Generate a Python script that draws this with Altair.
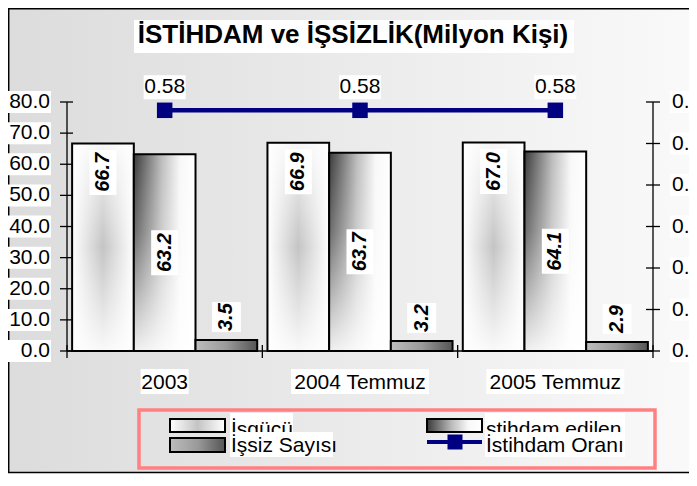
import altair as alt
import pandas as pd

# ---------------- data ----------------
groups = ["2003", "2004 Temmuz", "2005 Temmuz"]
series = ["İşgücü", "İstihdam edilen", "İşsiz Sayısı"]
isgucu = [66.7, 66.9, 67.0]
istihdam_edilen = [63.2, 63.7, 64.1]
issiz_sayisi = [3.5, 3.2, 2.9]
istihdam_orani = [0.58, 0.58, 0.58]
legend_labels = ["İşgücü", "stihdam edilen", "İşsiz Sayısı", "İstihdam Oranı"]
left_ticks = [0, 10, 20, 30, 40, 50, 60, 70, 80]
right_ticks = [0.0, 0.1, 0.2, 0.3, 0.4, 0.5, 0.6]
title_text = "İSTİHDAM ve İŞSİZLİK(Milyon Kişi)"

bars_df = pd.DataFrame({
    "group": groups * 3,
    "series": [series[0]] * 3 + [series[1]] * 3 + [series[2]] * 3,
    "value": isgucu + istihdam_edilen + issiz_sayisi,
})
rate_df = pd.DataFrame({"group": groups, "rate": istihdam_orani})
left_df = pd.DataFrame({"t": left_ticks})
right_df = pd.DataFrame({"t": right_ticks})
x_df = pd.DataFrame({"group": groups})
one = pd.DataFrame({"k": [0]})

FONT = "Liberation Sans"
NAVY = "#000080"
W, H = 586, 249


def grad(stops, x1=0, y1=0, x2=1, y2=0, kind="linear"):
    return alt.Gradient(
        gradient=kind,
        stops=[alt.GradientStop(offset=o, color=c) for o, c in stops],
        x1=x1, y1=y1, x2=x2, y2=y2,
    )


bg_fill = grad([(0, "#dcdcdc"), (1, "#fbfbfb")])
g1_base = grad([(0, "#ffffff"), (0.5, "#c4c4c4"), (1, "#ffffff")])
g1_over = grad([(0, "rgba(255,255,255,0.85)"), (0.5, "rgba(255,255,255,0)"),
                (1, "rgba(255,255,255,0.9)")], x2=0, y2=1)
g2_base = grad([(0, "#3a3a3a"), (0.45, "#bcbcbc"), (0.75, "#f8f8f8"), (1, "#ffffff")])
g2_over = grad([(0, "rgba(255,255,255,0)"), (0.4, "rgba(255,255,255,0.25)"),
                (1, "rgba(255,255,255,0.92)")], x2=0, y2=1)
g3_base = grad([(0, "#bdbdbd"), (0.5, "#9a9a9a"), (1, "#555555")])
g3_over = grad([(0, "rgba(255,255,255,0)"), (1, "rgba(255,255,255,0)")], x2=0, y2=1)

xscale = alt.Scale(domain=groups, paddingInner=0, paddingOuter=0)
X0 = alt.X("group:N", scale=xscale, sort=groups, axis=None)
XB = alt.X("group:N", scale=xscale, sort=groups, axis=None, bandPosition=0)
XO = alt.XOffset("series:N", sort=series,
                 scale=alt.Scale(domain=series, paddingInner=0, paddingOuter=0.083))
lscale = alt.Scale(domain=[0, 80], nice=False, zero=True)
rscale = alt.Scale(domain=[0, 0.6], nice=False, zero=True)
YL = alt.Y("value:Q", scale=lscale, axis=None)
YT = alt.Y("t:Q", scale=lscale, axis=None)

# ---------------- background frame & title ----------------
frame = alt.Chart(one).mark_rect(fill=bg_fill, stroke="black", strokeWidth=1.5).encode(
    x=alt.value(-58.3), x2=alt.value(660), y=alt.value(-93.3), y2=alt.value(370.5))
title_box = alt.Chart(one).mark_rect(fill="white").encode(
    x=alt.value(67), x2=alt.value(507), y=alt.value(-82), y2=alt.value(-49))
title = alt.Chart(one).mark_text(font=FONT, fontSize=26, fontWeight="bold", align="center",
                                 baseline="alphabetic", color="black").encode(
    x=alt.value(286), y=alt.value(-59), text=alt.value(title_text))

# ---------------- bars ----------------
layers = [frame, title_box, title]
fills = [(g1_base, g1_over), (g2_base, g2_over), (g3_base, g3_over)]
for i, s in enumerate(series):
    src = alt.Chart(bars_df).transform_filter(alt.datum.series == s)
    base = src.mark_bar(fill=fills[i][0], strokeWidth=0).encode(x=X0, xOffset=XO, y=YL)
    over = src.mark_bar(fill=fills[i][1], stroke="black", strokeWidth=2).encode(
        x=X0, xOffset=XO, y=YL)
    layers += [base, over]

# ---------------- axes (lines and crossing ticks) ----------------
AX = dict(color="black", strokeWidth=1.3)
layers.append(alt.Chart(one).mark_rule(**AX).encode(
    x=alt.value(0), y=alt.value(0), y2=alt.value(H)))
layers.append(alt.Chart(one).mark_rule(**AX).encode(
    x=alt.value(0), x2=alt.value(W), y=alt.value(H)))
layers.append(alt.Chart(left_df).mark_rule(**AX).encode(
    x=alt.value(-7), x2=alt.value(6), y=YT))
layers.append(alt.Chart(x_df).mark_rule(**AX).encode(
    x=XB, y=alt.value(H - 6), y2=alt.value(H + 7)))
layers.append(alt.Chart(one).mark_rule(**AX).encode(
    x=alt.value(W), y=alt.value(H - 6), y2=alt.value(H + 7)))

# ---------------- bar labels ----------------
lab_cfg = [  # (series idx, yOffset px, box w, box h, use half value)
    (0, 29, 27, 45, False),
    (1, 0, 27, 45, True),
    (2, -23, 29, 30, False),
]
for i, off, bw, bh, half in lab_cfg:
    src = alt.Chart(bars_df).transform_filter(alt.datum.series == series[i])
    if half:
        src = src.transform_calculate(pos="datum.value / 2")
    else:
        src = src.transform_calculate(pos="datum.value")
    ypos = alt.Y("pos:Q", scale=lscale, axis=None)
    box = src.mark_rect(fill="white", width=bw, height=bh, yOffset=off).encode(
        x=X0, xOffset=XO, y=ypos)
    txt = src.mark_text(font=FONT, fontSize=20, fontWeight="bold", fontStyle="italic",
                        angle=270, align="center", baseline="middle", yOffset=off,
                        color="black").encode(
        x=X0, xOffset=XO, y=ypos, text=alt.Text("value:Q", format=".1f"))
    layers += [box, txt]

# ---------------- left axis labels ----------------
layers.append(alt.Chart(left_df).mark_rect(fill="white", height=22).encode(
    x=alt.value(-59), x2=alt.value(-16), y=YT))
layers.append(alt.Chart(left_df).mark_text(font=FONT, fontSize=21, align="right",
                                           baseline="middle", color="black").encode(
    x=alt.value(-17), y=YT, text=alt.Text("t:Q", format=".1f")))

# ---------------- x labels ----------------
xsrc = alt.Chart(x_df)
layers.append(xsrc.transform_filter("length(datum.group) < 6").mark_rect(
    fill="white", width=48).encode(x=X0, y=alt.value(267), y2=alt.value(292)))
layers.append(xsrc.transform_filter("length(datum.group) >= 6").mark_rect(
    fill="white", width=138).encode(x=X0, y=alt.value(267), y2=alt.value(292)))
layers.append(xsrc.mark_text(font=FONT, fontSize=21, align="center", baseline="middle",
                             color="black").encode(x=X0, y=alt.value(281), text="group:N"))

# ---------------- legend ----------------
layers.append(alt.Chart(one).mark_rect(fillOpacity=0, stroke="#ff8080", strokeWidth=3.5).encode(
    x=alt.value(72), x2=alt.value(588), y=alt.value(308), y2=alt.value(366)))

sw = [(103, 158, 317, 330, g1_base), (360, 415, 317, 330, g2_base), (103, 158, 336, 350, g3_base)]
for x1, x2, y1, y2, f in sw:
    layers.append(alt.Chart(one).mark_rect(fill=f, stroke="black", strokeWidth=2).encode(
        x=alt.value(x1), x2=alt.value(x2), y=alt.value(y1), y2=alt.value(y2)))

leg_txt = [  # (label idx, x, baseline y, box x1, box x2, box y1, box y2)
    (0, 164, 334, 163, 226, 311, 335),
    (1, 419, 334, 418, 558, 311, 335),
    (2, 164, 350, 163, 266, 330, 355),
    (3, 419, 350, 418, 558, 330, 355),
]
for idx, tx, ty, bx1, bx2, by1, by2 in leg_txt:
    layers.append(alt.Chart(one).mark_rect(fill="white").encode(
        x=alt.value(bx1), x2=alt.value(bx2), y=alt.value(by1), y2=alt.value(by2)))
    layers.append(alt.Chart(one).mark_text(font=FONT, fontSize=21, align="left",
                                           baseline="alphabetic", color="black").encode(
        x=alt.value(tx), y=alt.value(ty), text=alt.value(legend_labels[idx])))

layers.append(alt.Chart(one).mark_rule(color=NAVY, strokeWidth=4).encode(
    x=alt.value(360), x2=alt.value(415), y=alt.value(340)))
layers.append(alt.Chart(one).mark_point(shape="square", filled=True, size=225, color=NAVY,
                                        opacity=1).encode(x=alt.value(388), y=alt.value(340)))

left_group = alt.layer(*layers)

# ---------------- right axis group: rate line ----------------
YR = alt.Y("rate:Q", scale=rscale, axis=None)
YRT = alt.Y("t:Q", scale=rscale, axis=None)
rsrc = alt.Chart(rate_df)
r_layers = [
    alt.Chart(one).mark_rule(**AX).encode(x=alt.value(W), y=alt.value(0), y2=alt.value(H)),
    alt.Chart(right_df).mark_rule(**AX).encode(x=alt.value(W - 7), x2=alt.value(W + 7), y=YRT),
    rsrc.mark_line(color=NAVY, strokeWidth=4.5).encode(x=X0, y=YR),
    rsrc.mark_point(shape="square", filled=True, size=240, color=NAVY, opacity=1).encode(
        x=X0, y=YR),
    rsrc.mark_rect(fill="white", width=42, height=24, yOffset=-23).encode(x=X0, y=YR),
    rsrc.mark_text(font=FONT, fontSize=21, align="center", baseline="middle", yOffset=-23,
                   color="black").encode(x=X0, y=YR, text=alt.Text("rate:Q", format=".2f")),
    alt.Chart(right_df).mark_rect(fill="white", height=22).encode(
        x=alt.value(603), x2=alt.value(650), y=YRT),
    alt.Chart(right_df).mark_text(font=FONT, fontSize=21, align="left",
                                  baseline="middle", color="black").encode(
        x=alt.value(605), y=YRT, text=alt.Text("t:Q", format=".1f")),
]
right_group = alt.layer(*r_layers)

chart = alt.layer(left_group, right_group).resolve_scale(y="independent").properties(
    width=W, height=H,
    autosize=alt.AutoSizeParams(type="none"),
    padding={"left": 59, "top": 94, "right": 36, "bottom": 123},
    background="white",
).configure_view(stroke=None)

chart.save("out.html", embed_options={"renderer": "svg", "actions": False})
